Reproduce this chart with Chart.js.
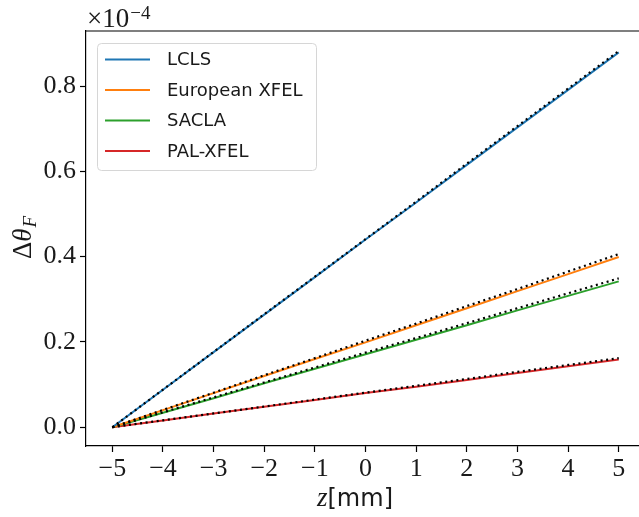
<!DOCTYPE html>
<html>
<head>
<meta charset="utf-8">
<script src="https://cdn.jsdelivr.net/npm/chart.js@4/dist/chart.umd.min.js"></script>
<style>
    html, body { margin: 0; padding: 0; background: white; }
    #wrap { width: 639px; height: 517px; position: relative; }
</style>
</head>
<body>
<div id="wrap"><canvas id="chart"></canvas></div>
<script>
// values in units of 1e-4
const zValues = [-5, -4, -3, -2, -1, 0, 1, 2, 3, 4, 5];
const xTicks = [-5, -4, -3, -2, -1, 0, 1, 2, 3, 4, 5];
const yTicks = [0.0, 0.2, 0.4, 0.6, 0.8];
const scaleExponent = -4;

const names = ["LCLS", "European XFEL", "SACLA", "PAL-XFEL"];
const colors = ["#1f77b4", "#ff7f0e", "#2ca02c", "#d62728"];

const lclsValues = [0, 0.088, 0.176, 0.264, 0.352, 0.440, 0.527, 0.615, 0.703, 0.791, 0.879];
const euxfelValues = [0, 0.040, 0.080, 0.120, 0.160, 0.199, 0.239, 0.279, 0.319, 0.359, 0.399];
const saclaValues = [0, 0.034, 0.068, 0.103, 0.137, 0.171, 0.205, 0.239, 0.274, 0.308, 0.342];
const palValues = [0, 0.016, 0.032, 0.048, 0.064, 0.080, 0.095, 0.111, 0.127, 0.143, 0.159];

// dotted black curves (approximation)
const lclsApprox = [0, 0.0882, 0.1765, 0.265, 0.353, 0.441, 0.529, 0.618, 0.706, 0.794, 0.882];
const euxfelApprox = [0, 0.0406, 0.081, 0.122, 0.162, 0.203, 0.243, 0.284, 0.324, 0.365, 0.406];
const saclaApprox = [0, 0.035, 0.070, 0.105, 0.140, 0.175, 0.209, 0.244, 0.279, 0.314, 0.349];
const palApprox = [0, 0.0162, 0.0324, 0.0486, 0.0648, 0.081, 0.097, 0.113, 0.130, 0.146, 0.162];

const solidSeries = [lclsValues, euxfelValues, saclaValues, palValues];
const dottedSeries = [lclsApprox, euxfelApprox, saclaApprox, palApprox];

const serif = "'Liberation Serif', 'DejaVu Serif', serif";
const sans = "'DejaVu Sans', 'Liberation Sans', sans-serif";

function toPoints(values) {
    return values.map((v, i) => ({ x: zValues[i], y: v }));
}

function fmtNum(v, digits) {
    return v.toFixed(digits).replace("-", "\u2212");
}

const datasets = [];
solidSeries.forEach((vals, i) => {
    datasets.push({
        label: names[i],
        data: toPoints(vals),
        borderColor: colors[i],
        borderWidth: 2,
        pointRadius: 0,
        order: 2
    });
    datasets.push({
        label: names[i] + " approx",
        data: toPoints(dottedSeries[i]),
        borderColor: "#000000",
        borderWidth: 2.2,
        borderDash: [2, 3.6],
        borderCapStyle: "butt",
        pointRadius: 0,
        order: 1
    });
});

// draws legend box, top spine, offset text and axis titles
const decorations = {
    id: "decorations",
    afterDraw(chart) {
        const ctx = chart.ctx;
        const area = chart.chartArea;
        ctx.save();

        // top spine
        ctx.strokeStyle = "#000";
        ctx.lineWidth = 1.2;
        ctx.beginPath();
        ctx.moveTo(area.left, area.top);
        ctx.lineTo(area.right, area.top);
        ctx.stroke();

        // legend
        const lx = 97, ly = 43, lw = 219, lh = 127, r = 4;
        ctx.fillStyle = "rgba(255,255,255,0.8)";
        ctx.strokeStyle = "#d6d6d6";
        ctx.lineWidth = 1;
        ctx.beginPath();
        ctx.roundRect(lx + 0.5, ly + 0.5, lw, lh, r);
        ctx.fill();
        ctx.stroke();
        ctx.font = "18px " + sans;
        ctx.textBaseline = "middle";
        ctx.textAlign = "left";
        names.forEach((name, i) => {
            const y = 59.5 + i * 30.5;
            ctx.strokeStyle = colors[i];
            ctx.lineWidth = 2;
            ctx.beginPath();
            ctx.moveTo(105, y);
            ctx.lineTo(150, y);
            ctx.stroke();
            ctx.fillStyle = "#1a1a1a";
            ctx.fillText(name, 167, y + 1);
        });

        // offset text  x10^-4
        ctx.fillStyle = "#1a1a1a";
        ctx.textBaseline = "alphabetic";
        ctx.font = "27px " + serif;
        ctx.fillText("\u00d710", 87, 27);
        const w = ctx.measureText("\u00d710").width;
        ctx.font = "19px " + serif;
        ctx.fillText("\u2212" + Math.abs(scaleExponent), 87 + w + 1, 19);

        // x title
        ctx.font = "italic 27px " + serif;
        const zW = ctx.measureText("z").width;
        ctx.font = "24px " + sans;
        const mmW = ctx.measureText("[mm]").width;
        const cx = (area.left + 618) / 2 + 3;
        let x0 = cx - (zW + mmW) / 2;
        ctx.font = "italic 27px " + serif;
        ctx.fillText("z", x0, 506);
        ctx.font = "24px " + sans;
        ctx.fillText("[mm]", x0 + zW, 506);

        // y title
        ctx.translate(31, 238);
        ctx.rotate(-Math.PI / 2);
        ctx.font = "27px " + serif;
        const dW = ctx.measureText("\u0394").width;
        ctx.font = "italic 27px " + serif;
        const tW = ctx.measureText("\u03b8").width;
        ctx.font = "italic 19px " + serif;
        const fW = ctx.measureText("F").width;
        let sx = -(dW + tW + fW) / 2;
        ctx.font = "27px " + serif;
        ctx.fillText("\u0394", sx, 0);
        ctx.font = "italic 27px " + serif;
        ctx.fillText("\u03b8", sx + dW, 0);
        ctx.font = "italic 19px " + serif;
        ctx.fillText("F", sx + dW + tW + 1, 5);

        ctx.restore();
    }
};

new Chart(document.getElementById("chart"), {
    type: "line",
    data: { datasets: datasets },
    options: {
        responsive: true,
        maintainAspectRatio: false,
        animation: false,
        layout: { padding: { top: 31, left: 0, right: 0, bottom: 0 } },
        plugins: {
            legend: { display: false },
            tooltip: { enabled: false }
        },
        scales: {
            x: {
                type: "linear",
                min: -5.52,
                max: 5.40,
                afterBuildTicks: (scale) => { scale.ticks = xTicks.map(v => ({ value: v })); },
                afterFit: (scale) => { scale.height = 71; },
                grid: {
                    drawOnChartArea: false,
                    tickLength: 6,
                    tickWidth: 1.2,
                    tickColor: "#000"
                },
                border: { color: "#000", width: 1.2 },
                ticks: {
                    color: "#1a1a1a",
                    padding: 2,
                    maxRotation: 0,
                    autoSkip: false,
                    font: { family: serif, size: 26 },
                    callback: (v) => fmtNum(v, 0)
                }
            },
            y: {
                type: "linear",
                min: -0.044,
                max: 0.929,
                afterBuildTicks: (scale) => { scale.ticks = yTicks.map(v => ({ value: v })); },
                afterFit: (scale) => { scale.width = 86; },
                grid: {
                    drawOnChartArea: false,
                    tickLength: 6,
                    tickWidth: 1.2,
                    tickColor: "#000"
                },
                border: { color: "#000", width: 1.2 },
                ticks: {
                    color: "#1a1a1a",
                    padding: 4,
                    autoSkip: false,
                    font: { family: serif, size: 26 },
                    callback: (v) => fmtNum(v, 1)
                }
            }
        }
    },
    plugins: [decorations]
});
</script>
</body>
</html>
